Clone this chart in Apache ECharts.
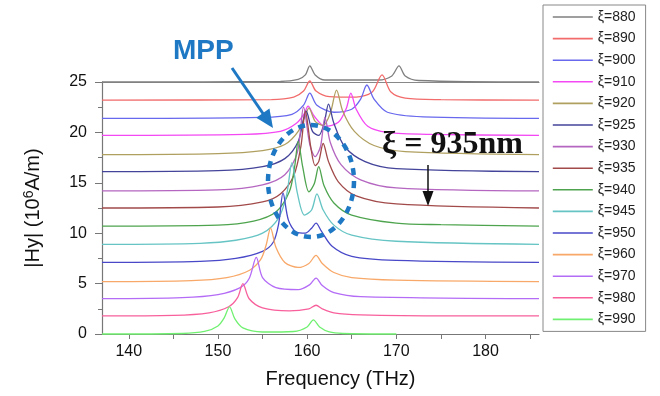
<!DOCTYPE html>
<html>
<head>
<meta charset="utf-8">
<script src="https://cdn.jsdelivr.net/npm/echarts@6/dist/echarts.min.js"></script>
<style>
  html, body { margin: 0; padding: 0; background: #fff; }
  #chart { width: 660px; height: 396px; }
</style>
</head>
<body>
<div id="chart"></div>
<script>
// each curve: [frequency (THz), |Hy| offset value]
const xi880 = [[137,25],[157,25.05],[159,25.25],[159.8,25.7],[160.3,26.6],[160.9,25.7],[162,25.2],[168,25.2],[169.5,25.6],[170.3,26.6],[171,25.6],[172.5,25.15],[186,25]];
const xi890 = [[137,23.2],[156,23.25],[158.5,23.5],[159.6,24.1],[160.3,25.1],[161,24.1],[162.5,23.55],[165.5,23.5],[167.3,24],[168.4,25.7],[169.4,24],[171,23.4],[175,23.25],[186,23.2]];
const xi900 = [[137,21.4],[155,21.5],[158.3,21.8],[159.6,22.7],[160.3,23.9],[161.1,22.7],[163,22],[165,22.3],[166,23.3],[166.7,24.7],[167.5,23.3],[169,22],[173,21.55],[186,21.4]];
const xi910 = [[137,19.7],[153,19.8],[157,20.1],[158.8,20.9],[159.7,21.9],[160.1,22.6],[160.8,21.6],[162,20.6],[163.5,21],[164.4,22.4],[164.9,23.9],[165.5,22.3],[166.8,20.6],[169,20],[174,19.8],[186,19.7]];
const xi920 = [[137,17.8],[150,17.9],[155,18.2],[157.5,18.8],[159,20.1],[159.8,21.7],[160.2,22.4],[160.9,21.1],[161.8,20.7],[162.6,21.9],[163.3,24.2],[164,22.1],[165.3,20.1],[167.5,18.7],[171,18.1],[186,17.8]];
const xi925 = [[137,16.1],[150,16.2],[155,16.6],[157.5,17.4],[159,19.1],[159.9,22.1],[160.6,20.1],[161.3,19.7],[161.9,20.9],[162.4,22.8],[163,20.9],[164.2,18.6],[166.5,17.1],[170,16.4],[186,16.1]];
const xi930 = [[137,14.2],[150,14.3],[155,14.8],[157.5,15.8],[158.9,18],[159.6,22.5],[160.3,18.8],[160.9,17.6],[161.5,18.6],[162,21.5],[162.6,19],[163.8,16.8],[166,15.3],[170,14.5],[186,14.2]];
const xi935 = [[137,12.5],[150,12.6],[155,13.1],[157,13.9],[158.5,15.7],[159.3,18.6],[159.8,22.1],[160.4,18.6],[160.9,16.7],[161.3,17.1],[161.8,18.9],[162.4,17.1],[163.5,15.1],[165.5,13.7],[170,12.9],[186,12.5]];
const xi940 = [[137,10.7],[150,10.8],[154,11.2],[156.5,12.1],[158,14.1],[158.6,16.6],[159,19.1],[159.5,16.6],[160.2,14.1],[160.8,14.9],[161.3,16.6],[161.9,14.7],[163,13],[165,11.8],[170,11],[175,10.85],[186,10.7]];
const xi945 = [[137,8.9],[148,9],[152,9.3],[155,10],[156.8,11.5],[157.7,13.8],[158.3,17],[158.9,14],[159.7,11.8],[160.5,12.3],[161.1,13.9],[161.8,12.3],[163,10.8],[165,9.8],[170,9.2],[186,8.9]];
const xi950 = [[137,7.1],[148,7.2],[152,7.5],[155,8.2],[156.2,9.1],[156.8,10.9],[157.3,14],[157.9,11.3],[158.8,10.1],[159.8,10],[160.5,10.5],[161,11],[161.6,10.2],[162.8,8.7],[165,7.7],[170,7.3],[186,7.1]];
const xi960 = [[137,5.2],[147,5.3],[151,5.6],[153.5,6.3],[154.8,7.4],[155.4,8.8],[155.9,10.5],[156.5,8.6],[157.5,7.1],[159,6.6],[160.2,7],[161,7.8],[161.7,7],[163,6.1],[165,5.6],[170,5.35],[186,5.2]];
const xi970 = [[137,3.5],[146,3.6],[150,3.9],[152.5,4.6],[153.5,5.5],[154.3,7.6],[155,5.6],[156.5,4.6],[159,4.4],[160.3,4.9],[161,5.55],[161.7,4.8],[163,4.1],[166,3.7],[186,3.5]];
const xi980 = [[137,1.8],[145,1.85],[149,2.1],[151.2,2.7],[152.2,3.6],[152.8,5],[153.5,3.5],[155,2.6],[158,2.3],[160.2,2.5],[161,2.85],[161.7,2.5],[163,2.1],[166,1.9],[176,1.8],[186,1.8]];
const xi990 = [[137,0],[146,0.05],[148.5,0.25],[150,0.8],[150.7,1.6],[151.3,2.7],[151.9,1.5],[152.8,0.6],[155,0.2],[158.5,0.25],[160,0.7],[160.7,1.4],[161.4,0.7],[162.5,0.2],[164,0.05],[170,0]];

const curveNames = ['ξ=880','ξ=890','ξ=900','ξ=910','ξ=920','ξ=925','ξ=930','ξ=935','ξ=940','ξ=945','ξ=950','ξ=960','ξ=970','ξ=980','ξ=990'];
const curveData = [xi880, xi890, xi900, xi910, xi920, xi925, xi930, xi935, xi940, xi945, xi950, xi960, xi970, xi980, xi990];
const curveColors = ['#7f7f7f','#f26c6c','#6868ee','#f348f3','#b0a060','#44449a','#b466c0','#a24a4a','#4ea44e','#66c4c4','#4848c8','#f8a868','#b46cf6','#f8609c','#70f070'];

const xTicks = [140,145,150,155,160,165,170,175,180,185];
const xLabels = [140,150,160,170,180];

const chart = echarts.init(document.getElementById('chart'));

const blue = '#1f78c4';

// arrow helpers (decoration only)
function arrowHead(x1, y1, x2, y2, len, half, color) {
  const a = Math.atan2(y2 - y1, x2 - x1);
  const bx = x2 - len * Math.cos(a), by = y2 - len * Math.sin(a);
  return {
    type: 'polygon', z: 100,
    shape: { points: [[x2, y2], [bx + half * Math.sin(a), by - half * Math.cos(a)], [bx - half * Math.sin(a), by + half * Math.cos(a)]] },
    style: { fill: color }
  };
}

const option = {
  animation: false,
  backgroundColor: '#fff',
  grid: { left: 102, right: 121, top: 82, bottom: 62 },
  legend: {
    orient: 'vertical',
    left: 543, top: 5,
    padding: [5, 10, 5, 9],
    itemWidth: 40, itemHeight: 14, itemGap: 7.6,
    borderColor: '#888', borderWidth: 1,
    itemStyle: { opacity: 0 },
    lineStyle: { width: 1.6 },
    textStyle: { fontFamily: 'Liberation Sans, Arial', fontSize: 14, color: '#222' },
    data: curveNames
  },
  xAxis: [{
    type: 'value', min: 137, max: 186,
    axisLine: { lineStyle: { color: '#777', width: 1.2 } },
    axisTick: { customValues: xTicks, length: 5, lineStyle: { color: '#777' } },
    axisLabel: { customValues: xLabels, margin: 10, fontFamily: 'Liberation Sans, Arial', fontSize: 16, color: '#111' },
    splitLine: { show: false },
    name: 'Frequency (THz)', nameLocation: 'middle', nameGap: 35,
    nameTextStyle: { fontFamily: 'Liberation Sans, Arial', fontSize: 20, color: '#111', padding: [0, 0, 0, 40] }
  }, {
    type: 'value', position: 'top', min: 137, max: 186,
    axisLine: { show: true, onZero: false, lineStyle: { color: '#888', width: 1.2 } },
    axisTick: { show: false }, axisLabel: { show: false }, splitLine: { show: false }
  }],
  yAxis: {
    type: 'value', min: 0, max: 25, interval: 5,
    axisLine: { show: true, lineStyle: { color: '#777', width: 1.2 } },
    axisTick: { show: true, length: 7, lineStyle: { color: '#777' } },
    minorTick: { show: true, splitNumber: 2, length: 4, lineStyle: { color: '#777' } },
    axisLabel: { margin: 15, fontFamily: 'Liberation Sans, Arial', fontSize: 16, color: '#111' },
    splitLine: { show: false },
    name: '|Hy| (10{s|6}A/m)', nameLocation: 'middle', nameGap: 58,
    nameTextStyle: {
      fontFamily: 'Liberation Sans, Arial', fontSize: 20, color: '#111',
      rich: { s: { fontFamily: 'Liberation Sans, Arial', fontSize: 14, color: '#111', verticalAlign: 'top', padding: [0, 0, 8, 0] } }
    }
  },
  series: curveData.map((d, i) => ({
    name: curveNames[i],
    type: 'line',
    data: d,
    symbol: 'none',
    smooth: 0.3,
    clip: false,
    color: curveColors[i],
    lineStyle: { width: 1.3, color: curveColors[i] }
  })),
  graphic: [
    { type: 'text', left: 173, top: 37, z: 100,
      style: { text: 'MPP', font: 'bold 28px Liberation Sans, Arial', fill: blue } },
    { type: 'line', z: 100, shape: { x1: 232, y1: 68, x2: 264, y2: 115 },
      style: { stroke: blue, lineWidth: 3 } },
    arrowHead(232, 68, 273, 128, 18, 8, blue),
    { type: 'ellipse', z: 100, shape: { cx: 311, cy: 181, rx: 43, ry: 56 },
      style: { fill: 'none', stroke: blue, lineWidth: 4.5, lineDash: [7, 6] } },
    { type: 'text', left: 382, top: 129, z: 100,
      style: { text: 'ξ = 935nm', font: 'bold 32px Liberation Serif, Times New Roman', fill: '#111' } },
    { type: 'line', z: 100, shape: { x1: 428, y1: 165, x2: 428, y2: 192 },
      style: { stroke: '#111', lineWidth: 1.5 } },
    arrowHead(428, 165, 428, 206, 15, 5.5, '#111')
  ]
};

chart.setOption(option);
</script>
</body>
</html>
